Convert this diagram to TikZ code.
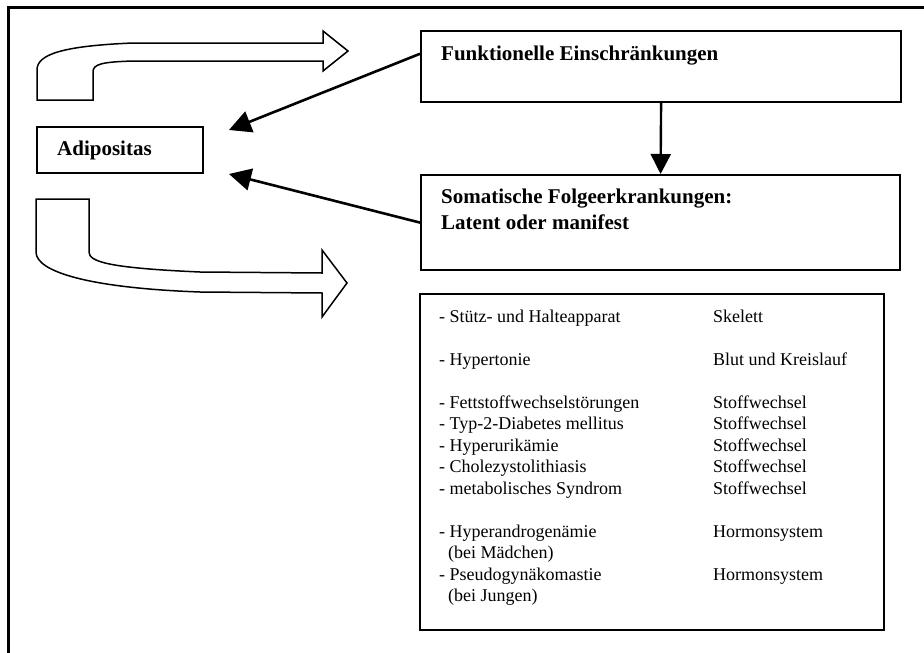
\documentclass[tikz,border=0pt]{standalone}
\usepackage{fontspec}
\setmainfont{Liberation Serif}
\usetikzlibrary{arrows.meta,calc}
\begin{document}
\begin{tikzpicture}[x=1pt,y=-1pt,
  box/.style={draw,line width=2.2pt,rectangle,inner sep=0pt,anchor=north west},
  title/.style={anchor=base west,inner sep=0pt,font=\fontsize{21}{24}\selectfont\bfseries},
  conn/.style={line width=2.6pt,-{Triangle[length=22pt,width=22pt]}},
  block/.style={draw,line width=1.5pt,fill=white,line join=miter}]
\useasboundingbox (0,0) rectangle (924,653);
% outer frame (only top and left visible)
\draw[line width=3pt] (8,653) -- (8,7) -- (924,7);

% boxes
\node[box,minimum width=166pt,minimum height=46pt] (adi) at (36,126) {};
\node[title] (aditext) at (57,155) {Adipositas};

\node[box,minimum width=480pt,minimum height=71pt] (funk) at (420,30) {};
\node[title] (funktext) at (441,60) {Funktionelle Einschränkungen};

\node[box,minimum width=479pt,minimum height=95pt] (som) at (420,174) {};
\node[title] (somtext) at (441,203) {\begin{tabular}[t]{@{}l@{}}Somatische Folgeerkrankungen:\\[2pt]Latent oder manifest\end{tabular}};

\node[box,line width=1.7pt,minimum width=464pt,minimum height=336pt] (list) at (419,293) {};
\node[anchor=base west,inner sep=0pt,font=\fontsize{18}{21.5}\selectfont] (listtext) at (439,322) {%
\begin{tabular}[t]{@{}p{274pt}@{}l@{}}
- Stütz- und Halteapparat & Skelett\\
 & \\
- Hypertonie & Blut und Kreislauf\\
 & \\
- Fettstoffwechselstörungen & Stoffwechsel\\
- Typ-2-Diabetes mellitus & Stoffwechsel\\
- Hyperurikämie & Stoffwechsel\\
- Cholezystolithiasis & Stoffwechsel\\
- metabolisches Syndrom & Stoffwechsel\\
 & \\
- Hyperandrogenämie & Hormonsystem\\
\hspace*{9pt}(bei Mädchen) & \\
- Pseudogynäkomastie & Hormonsystem\\
\hspace*{9pt}(bei Jungen) & \\
\end{tabular}};

% connectors
\coordinate (tipA) at (229,130);
\coordinate (tipB) at (229,174);
\draw[conn] ($(funk.north west)!0.325!(funk.south west)$) -- (tipA);
\draw[conn] (som.west) -- (tipB);
\draw[line width=2.4pt,-{Triangle[length=20pt,width=20pt]}] (funk.south) -- (som.north);

% hollow bent block arrows
\draw[block] (37,100) -- (37,70) .. controls (37,55) and (60,46) .. (133,43) -- (323,43) -- (323,31)
  -- (348,51) -- (323,71) -- (323,61) -- (133,61) .. controls (102,62) and (93,64) .. (93,72) -- (93,100) -- cycle;
\draw[block] (36,199) -- (36,252) .. controls (36,272) and (90,288) .. (200,292) -- (322,293) -- (322,317)
  -- (347,283) -- (322,250) -- (322,273) -- (200,272) .. controls (110,268) and (89,262) .. (89,252) -- (89,199) -- cycle;
\end{tikzpicture}
\end{document}
